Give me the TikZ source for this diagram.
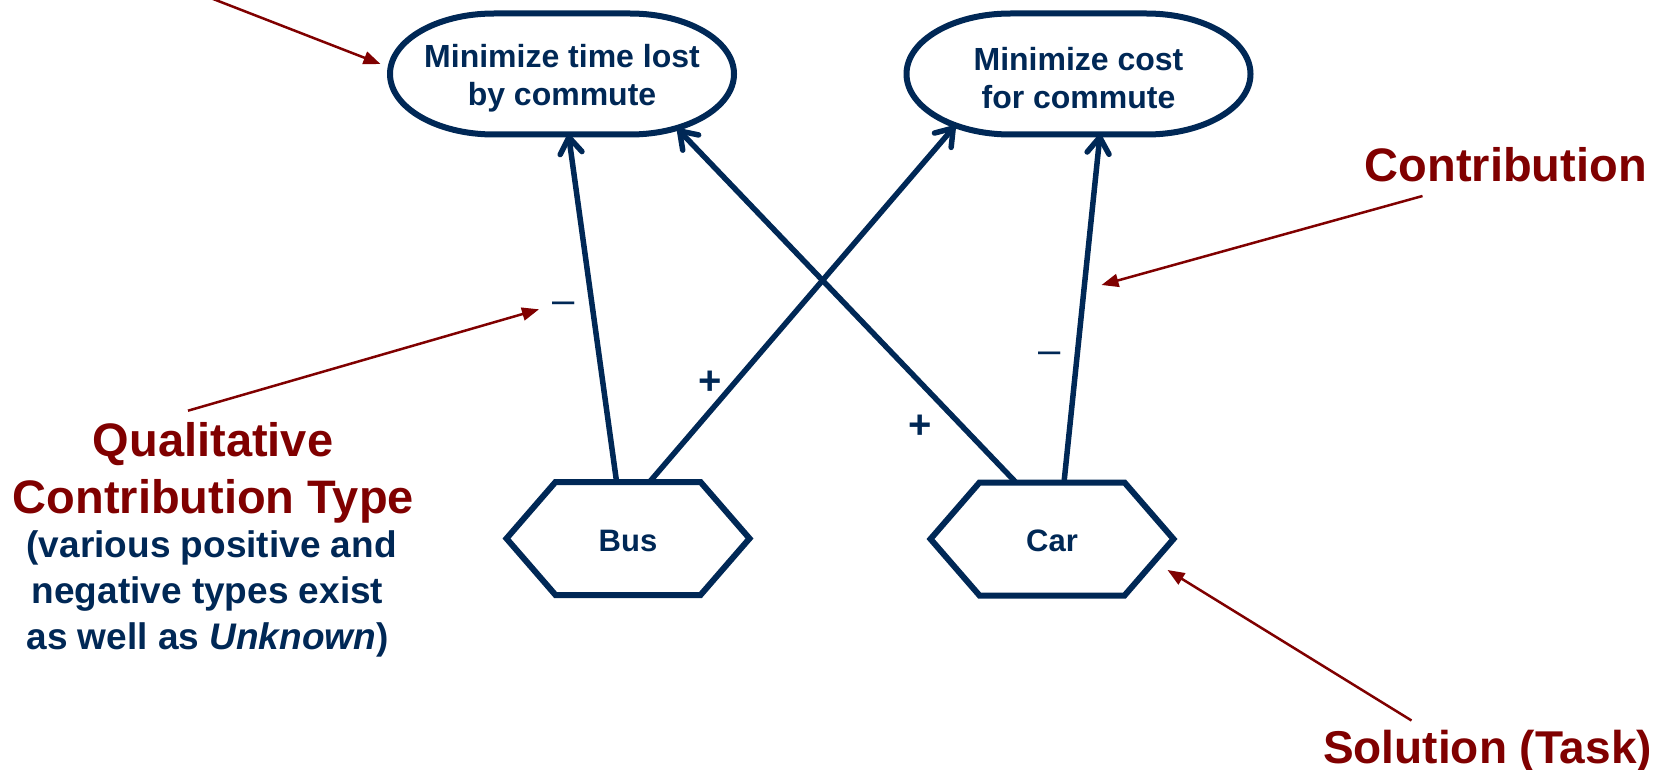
\documentclass[tikz,border=0pt]{standalone}
\usepackage{fontspec}
\setmainfont{Liberation Sans}
\usetikzlibrary{arrows.meta}
\definecolor{navy}{RGB}{0,40,86}
\definecolor{maroon}{RGB}{128,0,0}
\newcommand\topstrut[1]{\rule{0pt}{#1}}
\tikzset{
  every node/.style={inner sep=0pt, outer sep=0pt},
  goalbox/.style={minimum width=344pt, minimum height=121pt, align=center, text=navy,
    font=\fontsize{32}{38}\selectfont\bfseries},
  taskbox/.style={minimum width=243pt, minimum height=113pt, text=navy,
    font=\fontsize{31}{35}\selectfont\bfseries},
  outline/.style={draw=navy, line width=6pt},
  contrib/.style={draw=navy, line width=5.5pt, -{Straight Barb[length=16pt,width=22pt,round]}},
  minus/.style={text=navy, anchor=base, font=\fontsize{40}{40}\selectfont},
  plus/.style={text=navy, anchor=base, font=\fontsize{40}{40}\selectfont\bfseries},
  note/.style={text=maroon, anchor=base, font=\fontsize{47}{56}\selectfont\bfseries},
  notesub/.style={text=navy, anchor=base, font=\fontsize{37}{46}\selectfont\bfseries},
  pointer/.style={draw=maroon, line width=2.5pt, -{Triangle[length=17pt,width=13pt]}},
}
% soft-goal outline: flat top and bottom with elliptical end caps
\newcommand\goaloutline[1]{%
  \draw[outline] ([xshift=-68pt]#1.north) -- ([xshift=68pt]#1.north)
    arc[start angle=90, end angle=-90, x radius=104pt, y radius=60.5pt]
    -- ([xshift=-68pt]#1.south)
    arc[start angle=270, end angle=90, x radius=104pt, y radius=60.5pt] -- cycle;}
% task outline: flat hexagon
\newcommand\taskoutline[1]{%
  \draw[outline] ([xshift=-72.5pt]#1.north) -- ([xshift=72.5pt]#1.north) -- (#1.east)
    -- ([xshift=72.5pt]#1.south) -- ([xshift=-72.5pt]#1.south) -- (#1.west) -- cycle;}

\begin{document}
\begin{tikzpicture}[x=1pt, y=-1pt]
\path[use as bounding box, fill=white] (0,0) rectangle (1664,770);

% goals
\node[goalbox] (g1) at (562,74) {\topstrut{32pt}Minimize time lost\\by commute};
\node[goalbox] (g2) at (1078.5,74) {\topstrut{32pt}Minimize cost\\for commute};
\goaloutline{g1}
\goaloutline{g2}

% tasks
\node[taskbox] (bus) at (628,538.5) {\topstrut{26pt}Bus};
\node[taskbox] (car) at (1052,539) {\topstrut{26pt}Car};
\taskoutline{bus}
\taskoutline{car}

% contribution links
\draw[contrib] ([xshift=-11.4pt]bus.north) -- ([xshift=6.5pt]g1.south);
\draw[contrib] ([xshift=21.5pt]bus.north) -- ([shift={(-123.5,52)}]g2.center);
\draw[contrib] ([xshift=-36pt]car.north) -- ([shift={(115.7,55)}]g1.center);
\draw[contrib] ([xshift=12pt]car.north) -- ([xshift=21.5pt]g2.south);

% contribution types
\node[minus] (bus-g1-type) at (564,313) {–};
\node[plus]  (bus-g2-type) at (710,394.5) {+};
\node[plus]  (car-g1-type) at (920,438.5) {+};
\node[minus] (car-g2-type) at (1050,363) {–};

% annotations
\node[note] (contrib-label) at (1505.8,181.7) {Contribution};
\coordinate (contrib-from) at (1422.5,196);
\coordinate (contrib-to) at (1101.5,285);
\draw[pointer] (contrib-from) -- (contrib-to);

\node[note] (qual-1) at (213,456) {Qualitative};
\node[note] (qual-2) at (213.3,513) {Contribution Type};
\node[notesub] (qual-3) at (211.7,557.5) {(various positive and};
\node[notesub] (qual-4) at (207.5,603.5) {negative types exist};
\node[notesub] (qual-5) at (207.5,649) {as well as \textit{Unknown})};
\coordinate (qual-from) at (188,410.7);
\coordinate (qual-to) at (539,309.3);
\draw[pointer] (qual-from) -- (qual-to);

\node[note, font=\fontsize{46}{56}\selectfont\bfseries] (sol-label) at (1487.5,763.3) {Solution (Task)};
\coordinate (sol-from) at (1411.5,720.5);
\coordinate (sol-to) at (1167.5,570);
\draw[pointer] (sol-from) -- (sol-to);

\coordinate (goal-from) at (190,-10);
\coordinate (goal-to) at (380.5,64);
\draw[pointer] (goal-from) -- (goal-to);
\end{tikzpicture}
\end{document}
